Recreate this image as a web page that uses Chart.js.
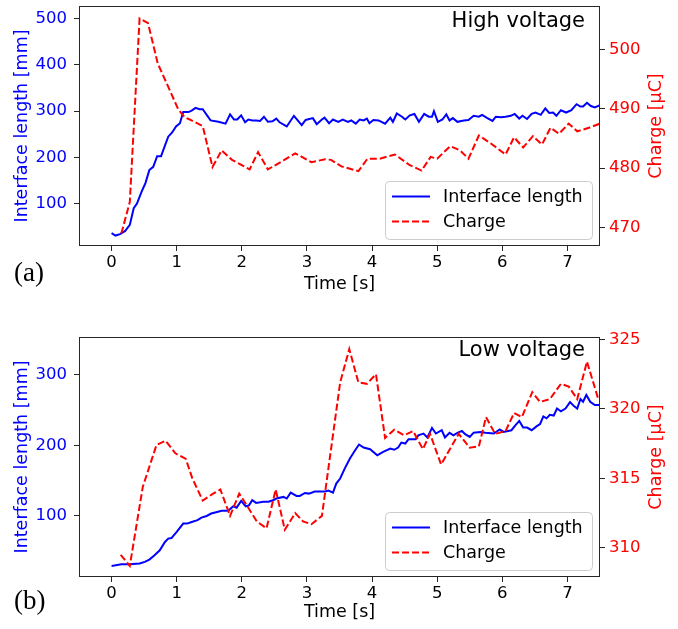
<!DOCTYPE html>
<html><head><meta charset="utf-8">
<script src="https://cdn.jsdelivr.net/npm/chart.js@4/dist/chart.umd.min.js"></script>
<style>
html,body{margin:0;padding:0;background:#fff;}
#wrap{position:relative;width:678px;height:629px;overflow:hidden;}
canvas{position:absolute;left:0;}
</style></head><body>
<div id="wrap">
<canvas id="c1" width="678" height="300" style="top:0px"></canvas>
<canvas id="c2" width="678" height="298" style="top:331px"></canvas>
</div>
<script>
// ---------- shared ----------
const xTicks = [0, 1, 2, 3, 4, 5, 6, 7];
const seriesNames = ['Interface length', 'Charge'];

// ---------- (a) High voltage ----------
const hvLengthTime = [0.00,0.06,0.13,0.21,0.28,0.34,0.39,0.46,0.52,0.58,0.64,0.70,0.76,0.87,0.93,0.99,1.05,1.10,1.18,1.23,1.29,1.35,1.40,1.52,1.64,1.75,1.82,1.88,1.93,1.99,2.05,2.10,2.16,2.22,2.28,2.34,2.40,2.47,2.53,2.58,2.69,2.80,2.92,2.98,3.09,3.15,3.23,3.27,3.34,3.40,3.48,3.55,3.63,3.68,3.75,3.81,3.87,3.92,3.96,4.02,4.10,4.20,4.28,4.32,4.38,4.46,4.51,4.58,4.65,4.72,4.80,4.87,4.92,4.95,5.01,5.08,5.14,5.19,5.24,5.31,5.41,5.48,5.56,5.64,5.69,5.77,5.85,5.90,5.98,6.05,6.13,6.19,6.26,6.31,6.38,6.45,6.51,6.59,6.66,6.72,6.78,6.83,6.90,6.98,7.06,7.14,7.20,7.24,7.30,7.36,7.42,7.50];
const hvLength = [37,32,35,42,55,91,101,126,145,173,180,203,203,245,254,267,274,298,298,301,307,304,304,280,277,273,293,282,282,291,276,282,280,280,279,288,277,278,284,276,267,290,270,281,285,272,282,286,274,282,277,282,277,280,273,282,280,284,274,281,280,273,286,277,295,288,282,291,294,277,294,288,288,300,277,282,293,280,285,277,280,281,290,288,292,285,279,288,287,288,290,294,284,290,283,294,297,292,306,296,297,290,302,297,302,315,310,310,318,311,308,313];
const hvChargeTime = [0.15,0.28,0.43,0.56,0.71,0.85,1.02,1.12,1.20,1.40,1.55,1.69,1.85,2.12,2.25,2.40,2.64,2.82,3.07,3.28,3.37,3.53,3.79,3.93,4.12,4.35,4.58,4.76,4.90,5.00,5.20,5.35,5.48,5.64,5.82,6.05,6.18,6.32,6.47,6.61,6.74,6.87,7.02,7.15,7.33,7.50];
const hvCharge = [469.0,474.3,505.2,504.4,497.6,494.2,490.0,488.6,488.2,487.1,480.2,483.0,481.4,479.8,482.7,479.8,481.3,482.5,481.0,481.5,481.4,480.3,479.5,481.6,481.6,482.3,480.5,479.6,481.9,481.6,483.7,483.0,481.6,485.5,484.2,482.3,485.2,483.5,485.4,484.0,486.8,485.8,487.5,486.2,486.8,487.5];
const hvLengthTicks = [100, 200, 300, 400, 500];
const hvChargeTicks = [470, 480, 490, 500];

// ---------- (b) Low voltage ----------
const lvLengthTime = [0.00,0.15,0.28,0.43,0.51,0.58,0.66,0.74,0.82,0.87,0.92,1.00,1.10,1.16,1.23,1.32,1.38,1.46,1.53,1.62,1.69,1.79,1.87,1.92,1.99,2.06,2.11,2.16,2.22,2.33,2.41,2.48,2.53,2.64,2.69,2.75,2.84,2.89,2.97,3.03,3.12,3.28,3.33,3.40,3.45,3.51,3.58,3.66,3.74,3.80,3.87,3.97,4.08,4.17,4.28,4.34,4.40,4.45,4.51,4.56,4.67,4.71,4.79,4.85,4.92,4.98,5.07,5.12,5.19,5.25,5.31,5.38,5.43,5.50,5.56,5.66,5.74,5.87,5.96,6.02,6.14,6.20,6.26,6.32,6.38,6.45,6.53,6.58,6.63,6.68,6.73,6.79,6.84,6.90,6.97,7.04,7.10,7.15,7.20,7.24,7.29,7.35,7.42,7.50];
const lvLength = [29.3,31.7,31.7,32.7,35,38.3,44.4,51.5,63.2,68,68.7,77.4,89.2,89.2,91.5,94,97.7,100,103.4,105.7,107.4,107.4,113.7,111.7,121.2,113.7,115,122.2,118.5,120,120,122.2,124.6,126.9,124.6,133,128.3,128.3,132.5,131.6,134.5,134.5,136,133,145.8,152.9,167,181.2,193,201,196.7,194.4,185.8,190.5,195.3,193.6,196.7,203.8,202.4,208.5,208.5,214,216.5,210.9,224.5,216.5,221.2,210.9,217.5,214,217.5,220.2,215.6,211.7,217.8,218.8,217.5,216.5,222.2,218.8,221.2,228.2,234.4,225,225,221.2,227,230,240.7,238,243,242,251.9,248,251.9,261,255.3,251.9,265.3,261.5,271,261.5,256.8,256.8];
const lvChargeTime = [0.14,0.28,0.48,0.69,0.83,0.98,1.14,1.24,1.40,1.56,1.67,1.82,1.96,2.07,2.23,2.38,2.52,2.66,2.82,2.94,3.07,3.23,3.51,3.65,3.79,3.92,4.06,4.20,4.34,4.49,4.63,4.78,4.89,5.06,5.33,5.50,5.64,5.75,5.89,6.05,6.18,6.30,6.46,6.58,6.73,6.90,7.02,7.15,7.30,7.48];
const lvCharge = [309.5,308.7,314.4,317.4,317.7,316.8,316.4,315.0,313.4,313.9,314.2,312.3,313.9,313.1,311.9,311.4,314.2,311.3,312.5,311.9,311.7,312.3,321.9,324.3,321.9,321.8,322.5,317.9,318.5,318.1,318.4,317.1,318.2,316.0,318.2,317.2,317.3,319.4,318.2,318.4,319.7,319.4,321.2,320.5,320.7,321.8,321.6,320.7,323.4,320.6];
const lvLengthTicks = [100, 200, 300];
const lvChargeTicks = [310, 315, 320, 325];

// ---------- drawing ----------
Chart.defaults.font.family = "'DejaVu Sans', sans-serif";
Chart.defaults.color = '#000';
const BLUE = '#0000ff', RED = '#ff0000', SPINE = '#262626';
const FT = 16.5, FL = 17.5;

function pairs(ts, vs) { return ts.map((t, i) => ({ x: t, y: vs[i] })); }
function noPad(s) { s.paddingTop = 0; s.paddingBottom = 0; s.paddingLeft = 0; s.paddingRight = 0; }

function makeChart(id, cfg) {
  const canvas = document.getElementById(id);
  const H = canvas.height;
  const deco = {
    id: 'deco' + id,
    afterDatasetsDraw(chart) {
      const ctx = chart.ctx, ca = chart.chartArea;
      ctx.save();
      // frame
      ctx.strokeStyle = SPINE; ctx.lineWidth = 1;
      ctx.strokeRect(Math.round(ca.left) + 0.5, Math.round(ca.top) + 0.5,
                     Math.round(ca.width) - 1, Math.round(ca.height) - 1);
      // annotation
      ctx.fillStyle = '#000';
      ctx.font = "21px 'DejaVu Sans'";
      ctx.textAlign = 'right'; ctx.textBaseline = 'middle';
      ctx.fillText(cfg.note, ca.right - 15, ca.top + cfg.noteDy);
      // right axis title, reading bottom-to-top
      ctx.save();
      ctx.translate(656, (ca.top + ca.bottom) / 2);
      ctx.rotate(-Math.PI / 2);
      ctx.fillStyle = RED; ctx.font = FL + "px 'DejaVu Sans'";
      ctx.textAlign = 'center'; ctx.textBaseline = 'middle';
      ctx.fillText('Charge [\u03BCC]', 0, 0);
      ctx.restore();
      // panel label
      ctx.fillStyle = '#000';
      ctx.font = "27px 'Liberation Serif'";
      ctx.textAlign = 'left'; ctx.textBaseline = 'middle';
      ctx.fillText(cfg.panel, 14, cfg.panelY);
      // legend
      const bx = 385.5, by = ca.bottom - 64.5, bw = 207, bh = 58;
      ctx.beginPath();
      ctx.roundRect(bx, by, bw, bh, 4);
      ctx.fillStyle = 'rgba(255,255,255,0.8)'; ctx.fill();
      ctx.strokeStyle = '#cccccc'; ctx.lineWidth = 1; ctx.stroke();
      const ds = chart.data.datasets;
      const rows = [by + 15, by + 40];
      ds.forEach((d, i) => {
        ctx.beginPath();
        ctx.strokeStyle = d.borderColor; ctx.lineWidth = 2;
        ctx.setLineDash(d.borderDash || []);
        ctx.moveTo(392, rows[i]); ctx.lineTo(430, rows[i]); ctx.stroke();
        ctx.setLineDash([]);
        ctx.fillStyle = '#000'; ctx.font = FL + "px 'DejaVu Sans'";
        ctx.textAlign = 'left'; ctx.textBaseline = 'middle';
        ctx.fillText(d.label, 443, rows[i] + 1);
      });
      ctx.restore();
    }
  };
  const tickGrid = { display: true, drawOnChartArea: false, drawTicks: true, tickLength: 5, tickColor: SPINE, lineWidth: 1 };
  return new Chart(canvas, {
    type: 'line',
    data: {
      datasets: [
        { label: seriesNames[0], data: pairs(cfg.lt, cfg.lv), yAxisID: 'y', borderColor: BLUE, backgroundColor: BLUE,
          borderWidth: 2, pointRadius: 0, tension: 0, order: 1 },
        { label: seriesNames[1], data: pairs(cfg.ct, cfg.cv), yAxisID: 'y1', borderColor: RED, backgroundColor: RED,
          borderWidth: 2, borderDash: [7, 3], pointRadius: 0, tension: 0, order: 0 }
      ]
    },
    options: {
      responsive: false, animation: false, devicePixelRatio: 1,
      layout: { padding: { top: 6, left: 0, right: 0, bottom: 0 } },
      plugins: { legend: { display: false }, tooltip: { enabled: false } },
      scales: {
        x: {
          type: 'linear', min: -0.5, max: 7.5,
          afterBuildTicks: s => { s.ticks = xTicks.map(v => ({ value: v })); },
          afterFit: s => { s.height = H - 6 - 240; noPad(s); },
          grid: tickGrid, border: { display: false },
          ticks: { color: '#000', font: { size: FT }, padding: 2, maxRotation: 0 },
          title: { display: true, text: 'Time [s]', color: '#000', font: { size: FL }, padding: { top: 0, bottom: cfg.xPad } }
        },
        y: {
          type: 'linear', position: 'left', min: cfg.yMin, max: cfg.yMax,
          afterBuildTicks: s => { s.ticks = cfg.yTicks.map(v => ({ value: v })); },
          afterFit: s => { s.width = 79; noPad(s); },
          grid: tickGrid, border: { display: false },
          ticks: { color: BLUE, font: { size: FT }, padding: 7 },
          title: { display: true, text: 'Interface length [mm]', color: BLUE, font: { size: FL }, padding: { top: 12, bottom: 0 } }
        },
        y1: {
          type: 'linear', position: 'right', min: cfg.y1Min, max: cfg.y1Max,
          afterBuildTicks: s => { s.ticks = cfg.y1Ticks.map(v => ({ value: v })); },
          afterFit: s => { s.width = 78; noPad(s); },
          grid: tickGrid, border: { display: false },
          ticks: { color: RED, font: { size: FT }, padding: 4 },
          title: { display: false }
        }
      }
    },
    plugins: [deco]
  });
}

makeChart('c1', {
  lt: hvLengthTime, lv: hvLength, ct: hvChargeTime, cv: hvCharge,
  yMin: 9.5, yMax: 526.5, yTicks: hvLengthTicks,
  y1Min: 466.9, y1Max: 507.3, y1Ticks: hvChargeTicks,
  note: 'High voltage', noteDy: 16, panel: '(a)', panelY: 274, xPad: 5
});
makeChart('c2', {
  lt: lvLengthTime, lv: lvLength, ct: lvChargeTime, cv: lvCharge,
  yMin: 13.7, yMax: 353, yTicks: lvLengthTicks,
  y1Min: 307.9, y1Max: 325.17, y1Ticks: lvChargeTicks,
  note: 'Low voltage', noteDy: 14, panel: '(b)', panelY: 271, xPad: 6
});
</script>
</body></html>
